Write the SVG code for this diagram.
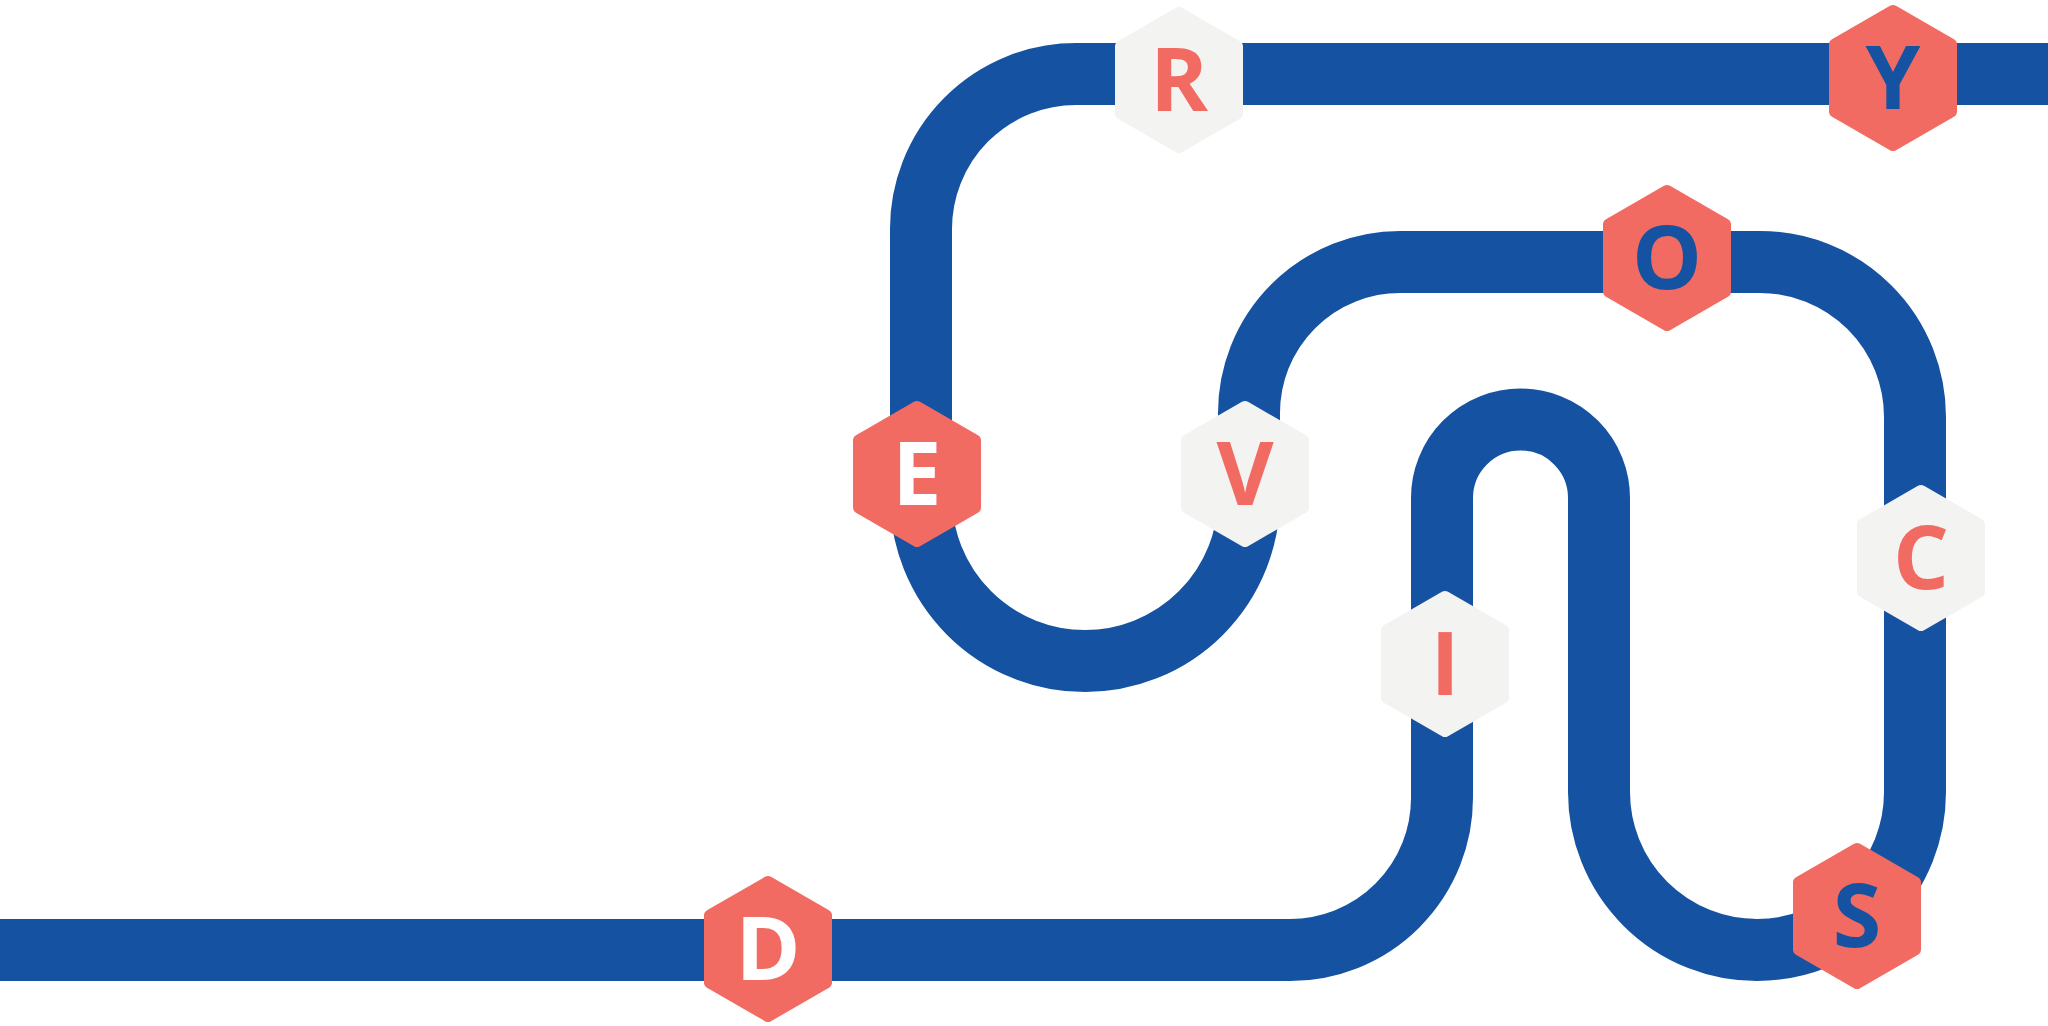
<svg xmlns="http://www.w3.org/2000/svg" width="2048" height="1026" viewBox="0 0 2048 1026">
<defs>
<style>
.track{fill:none;stroke:#1552a2;stroke-width:62}
.hex{stroke-width:12;stroke-linejoin:round}
.coral{fill:#f26b63;stroke:#f26b63}
.gray{fill:#f3f3f1;stroke:#f3f3f1}
.lbl{font-family:"Open Sans","Liberation Sans",sans-serif;font-weight:700;font-size:88px;text-anchor:middle}
.white{fill:#ffffff}
.blue{fill:#1552a2}
.red{fill:#f26b63}
</style>
<polygon id="hexshape" points="0,-67 58,-33.5 58,33.5 0,67 -58,33.5 -58,-33.5"/>
</defs>
<rect width="2048" height="1026" fill="#ffffff"/>
<g id="connectors">
<path class="track" d="M 0 950 H 1290 A 152 152 0 0 0 1442 798 V 498 A 78.5 78.5 0 0 1 1599 498 V 792 A 158 158 0 0 0 1915 792 V 417 A 155 155 0 0 0 1760 262 H 1400 A 151 151 0 0 0 1249 413 V 497 A 164 164 0 0 1 921 497 V 230 A 155 155 0 0 1 1076 74 H 2048"/>
</g>
<g id="node-D" transform="translate(768,949)"><use href="#hexshape" class="hex coral"/><text class="lbl white" y="31">D</text></g>
<g id="node-I" transform="translate(1445,664)"><use href="#hexshape" class="hex gray"/><text class="lbl red" y="31">I</text></g>
<g id="node-S" transform="translate(1857,916)"><use href="#hexshape" class="hex coral"/><text class="lbl blue" y="31">S</text></g>
<g id="node-C" transform="translate(1921,558)"><use href="#hexshape" class="hex gray"/><text class="lbl red" y="31">C</text></g>
<g id="node-O" transform="translate(1667,258)"><use href="#hexshape" class="hex coral"/><text class="lbl blue" y="31">O</text></g>
<g id="node-V" transform="translate(1245,474)"><use href="#hexshape" class="hex gray"/><text class="lbl red" y="31">V</text></g>
<g id="node-E" transform="translate(917,474)"><use href="#hexshape" class="hex coral"/><text class="lbl white" y="31">E</text></g>
<g id="node-R" transform="translate(1179,80)"><use href="#hexshape" class="hex gray"/><text class="lbl red" y="31">R</text></g>
<g id="node-Y" transform="translate(1893,78)"><use href="#hexshape" class="hex coral"/><text class="lbl blue" y="31">Y</text></g>
</svg>
